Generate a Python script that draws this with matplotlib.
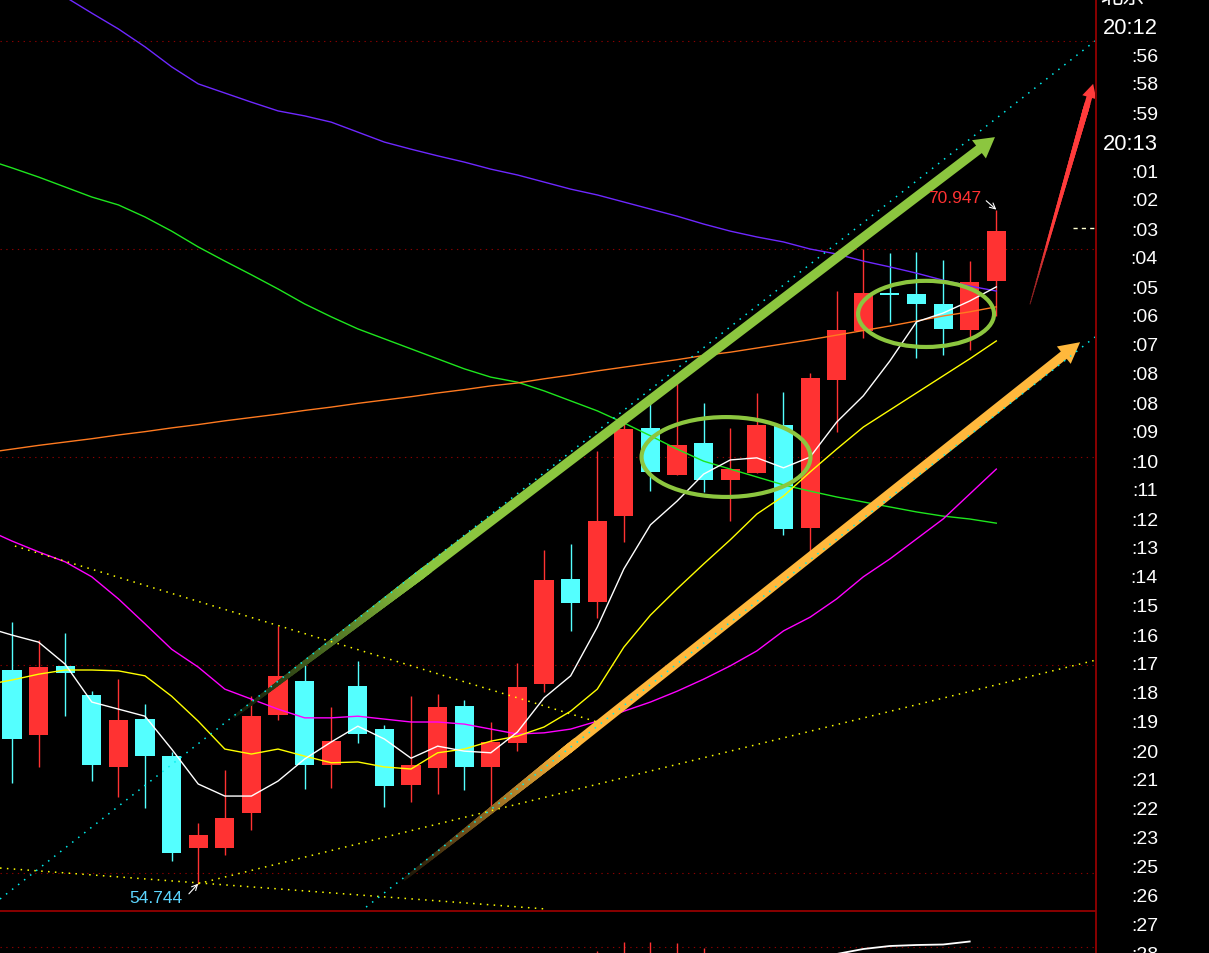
import numpy as np
import matplotlib.pyplot as plt
from matplotlib.patches import Ellipse, FancyArrowPatch
from matplotlib.collections import LineCollection
from matplotlib.colors import to_rgb
from matplotlib.lines import Line2D

plt.rcParams['font.family'] = ['Liberation Sans', 'Noto Sans CJK SC', 'DejaVu Sans']

# ---- candle data ----
opens = np.array([59.88, 58.32, 59.98, 59.28, 57.55, 58.70, 57.81, 55.60, 55.60, 56.44,
                  58.80, 59.62, 57.60, 59.50, 58.46, 57.12, 57.52, 59.01, 57.55, 58.13,
                  59.54, 62.07, 61.51, 63.58, 65.70, 64.57, 65.34, 64.45, 64.62, 65.77,
                  63.29, 66.85, 68.03, 68.94, 68.92, 68.68, 68.05, 69.23])
closes = np.array([58.22, 59.95, 59.81, 57.60, 58.68, 57.81, 55.48, 55.91, 56.32, 58.77,
                   59.74, 57.60, 58.17, 58.34, 57.09, 57.60, 58.99, 57.55, 58.15, 59.47,
                   62.04, 61.49, 63.46, 65.67, 64.64, 65.29, 64.45, 64.71, 65.77, 63.27,
                   66.90, 68.05, 68.94, 68.89, 68.68, 68.08, 69.21, 70.43])
highs = np.array([61.03, 60.60, 60.77, 59.37, 59.66, 59.06, 57.91, 56.20, 57.48, 59.25,
                  60.94, 60.07, 58.99, 60.10, 58.56, 59.25, 59.30, 59.16, 58.63, 60.05,
                  62.76, 62.91, 65.14, 65.87, 66.37, 66.78, 66.30, 65.70, 66.54, 66.56,
                  67.02, 68.99, 70.00, 69.90, 69.93, 69.74, 69.71, 70.947])
lows = np.array([57.16, 57.55, 58.77, 57.21, 56.83, 56.56, 55.29, 54.744, 55.43, 56.03,
                 58.68, 57.02, 57.04, 58.13, 56.59, 56.71, 56.90, 57.00, 56.51, 57.93,
                 59.35, 60.82, 61.13, 62.96, 64.18, 64.57, 64.16, 63.46, 64.62, 63.12,
                 62.72, 65.60, 67.86, 68.25, 67.38, 67.45, 67.57, 68.39])

# moving averages, first value belongs to the bar before the first visible one
ma_white = [60.91, 60.72, 60.55, 60.02, 59.11, 58.94, 58.77, 57.98, 57.14, 56.85, 56.85,
            57.21, 57.74, 58.15, 58.53, 58.22, 57.76, 58.05, 57.93, 57.89, 58.39,
            59.21, 59.74, 60.91, 62.31, 63.37, 63.94, 64.59, 64.93, 64.98, 64.74,
            65.00, 65.84, 66.47, 67.31, 68.25, 68.46, 68.75, 69.09]
ma_yellow = [59.52, 59.64, 59.78, 59.88, 59.88, 59.86, 59.74, 59.25, 58.65, 57.98, 57.86,
             57.98, 57.81, 57.65, 57.67, 57.55, 57.50, 57.89, 57.98, 58.17, 58.29,
             58.51, 58.89, 59.42, 60.43, 61.20, 61.83, 62.43, 63.01, 63.63, 64.06,
             64.64, 65.19, 65.72, 66.13, 66.54, 66.95, 67.36, 67.79]
ma_magenta = [63.27, 62.98, 62.72, 62.48, 62.12, 61.59, 60.99, 60.38, 59.95, 59.42, 59.18,
              58.94, 58.73, 58.73, 58.77, 58.70, 58.63, 58.63, 58.58, 58.46, 58.34,
              58.37, 58.46, 58.65, 58.89, 59.11, 59.37, 59.66, 59.98, 60.34, 60.82,
              61.15, 61.59, 62.12, 62.55, 63.03, 63.51, 64.11, 64.71]
ma_green = [72.16, 71.95, 71.73, 71.49, 71.25, 71.06, 70.77, 70.43, 70.05, 69.71, 69.38,
            69.04, 68.68, 68.37, 68.08, 67.84, 67.60, 67.36, 67.12, 66.92, 66.80,
            66.59, 66.35, 66.11, 65.82, 65.51, 65.19, 64.90, 64.71, 64.52, 64.33,
            64.18, 64.04, 63.92, 63.80, 63.68, 63.58, 63.51, 63.41]
ma_orange = [65.10, 65.19, 65.28, 65.36, 65.44, 65.53, 65.61, 65.70, 65.78, 65.87, 65.95,
             66.03, 66.12, 66.20, 66.29, 66.37, 66.45, 66.54, 66.62, 66.71, 66.78,
             66.88, 66.97, 67.07, 67.16, 67.25, 67.34, 67.44, 67.52, 67.62, 67.72,
             67.82, 67.93, 68.04, 68.15, 68.27, 68.39, 68.49, 68.61]
ma_purple = [77.45, 76.97, 76.54, 76.06, 75.67, 75.29, 74.86, 74.38, 73.97, 73.75, 73.53,
             73.32, 73.20, 73.05, 72.81, 72.57, 72.40, 72.24, 72.09, 71.92, 71.78,
             71.61, 71.44, 71.30, 71.13, 70.96, 70.79, 70.60, 70.43, 70.29, 70.17,
             70.00, 69.88, 69.71, 69.57, 69.42, 69.25, 69.11, 68.99]

# hand drawn trend lines: ((bar, price), (bar, price))
yellow_dotted = [((0.11, 62.86), (22.11, 58.61)),
                 ((7.0, 54.744), (41.0, 60.16)),
                 ((-0.45, 55.12), (20.08, 54.135))]
cyan_dotted = [((-0.45, 54.375), (40.71, 75.0)),
               ((13.31, 54.18), (40.71, 67.885))]
green_arrow = ((8.38, 58.77), (36.95, 72.69))
orange_arrow = ((14.77, 54.86), (40.15, 67.76))
red_arrow = ((38.27, 68.68), (40.64, 73.97))
ellipses = [((26.84, 65.0), 6.35, 1.92), ((34.36, 68.44), 5.11, 1.59)]
last_price = 70.50
grid_prices = [55, 60, 65, 70, 75]

# lower pane (indicator)
sub_x = [31, 32, 33, 34, 35, 36]
sub_line = [-0.7, -0.2, 0.1, 0.2, 0.25, 0.55]
sub_bar_x = [22, 23, 24, 25, 26]
sub_bar_top = [-0.4, 0.5, 0.5, 0.4, -0.1]

time_labels = ['20:12', ':56', ':58', ':59', '20:13', ':01', ':02', ':03', ':04', ':05',
               ':06', ':07', ':08', ':08', ':09', ':10', ':11', ':12', ':13', ':14',
               ':15', ':16', ':17', ':18', ':19', ':20', ':21', ':22', ':23', ':25',
               ':26', ':27', ':28']

RED = '#FF3232'
CYAN = '#54FFFF'
LIME = '#8CC63F'

fig = plt.figure(figsize=(12.09, 9.54), dpi=100, facecolor='black')
ax = fig.add_axes([0, 42 / 954, 1095 / 1209, 912 / 954])
ax.set_facecolor('black')
ax.set_xlim(-0.451, 40.71)
ax.set_ylim(54.087, 76.01)
ax.axis('off')

for g in grid_prices:
    ax.axhline(g, color='#8B0000', lw=0.8, ls=(0, (1.2, 4)), zorder=1)

# candles
x = np.arange(len(opens))
up = closes >= opens
cols = np.where(up, RED, CYAN)
ax.vlines(x, lows, highs, colors=cols, lw=1, zorder=2)
ax.bar(x, np.maximum(np.abs(closes - opens), 0.05), bottom=np.minimum(opens, closes),
       width=0.72, color=cols, lw=0, zorder=2)

# moving averages
xm = np.arange(-1, len(opens))
for vals, c in [(ma_purple, '#6E28FF'), (ma_green, '#1EE61E'), (ma_orange, '#FF7A20'),
                (ma_magenta, '#FF00FF'), (ma_yellow, '#FFFF00'), (ma_white, '#FFFFFF')]:
    ax.plot(xm, vals, color=c, lw=1.0, zorder=3)

ax.plot([39.9, 40.71], [last_price, last_price], color='#FFFFD0', lw=1, ls=(0, (3, 3)), zorder=3)

for (a, b) in yellow_dotted:
    ax.plot([a[0], b[0]], [a[1], b[1]], color='#FFFF00', lw=1.1, ls=(0, (1, 3.5)), zorder=5)
for (a, b) in cyan_dotted:
    ax.plot([a[0], b[0]], [a[1], b[1]], color='#00EEEE', lw=1.1, ls=(0, (1, 4)), zorder=5)


def draw_arrow(start, end, color, lw, head_l, head_w, tail_w, fade=0.25, taper=False):
    (x0, y0), (x1, y1) = start, end
    n = 80
    stop = 0.9 if taper else fade
    t = np.linspace(0, stop, n + 1)
    xs = x0 + (x1 - x0) * t
    ys = y0 + (y1 - y0) * t
    segs = [[(xs[k], ys[k]), (xs[k + 1], ys[k + 1])] for k in range(n)]
    frac = (t[:-1] + t[1:]) / 2 / stop
    base = np.array(to_rgb(color))
    if taper:
        rgb = [base * (0.5 + 0.5 * min(f * 3, 1)) for f in frac]
        widths = lw * (0.15 + 0.85 * frac)
    else:
        rgb = [base * (0.1 + 0.9 * f) for f in frac]
        widths = lw * (0.3 + 0.7 * frac)
    ax.add_collection(LineCollection(segs, colors=rgb, linewidths=widths,
                                     capstyle='projecting', zorder=4))
    s = 0.86 if taper else fade
    mid = (x0 + (x1 - x0) * s, y0 + (y1 - y0) * s)
    ax.add_patch(FancyArrowPatch(mid, end, shrinkA=0, shrinkB=0, mutation_scale=10,
                                 arrowstyle=f'simple,head_length={head_l},head_width={head_w},tail_width={tail_w}',
                                 color=color, lw=0, zorder=4))


draw_arrow(*green_arrow, LIME, 6.8, 1.45, 1.65, 0.68)
draw_arrow(*orange_arrow, '#FFB83C', 6.8, 1.5, 1.6, 0.68)
draw_arrow(*red_arrow, '#FF3B3B', 4.2, 1.0, 1.05, 0.42, taper=True)

for (c, w, h) in ellipses:
    ax.add_patch(Ellipse(c, w, h, fill=False, ec=LIME, lw=3, zorder=6))

# high / low marks
ax.text(35.45, 71.23, f'{highs[-1]:.3f}', color=RED, fontsize=12.5, ha='center', va='center', zorder=7)
ax.annotate('', xy=(37.0, highs[-1]), xytext=(36.62, 71.16),
            arrowprops=dict(arrowstyle='->', color='white', lw=0.8, shrinkA=0, shrinkB=0), zorder=7)
imin = int(np.argmin(lows))
ax.text(5.41, 54.42, f'{lows[imin]:.3f}', color='#5CD6FF', fontsize=12.5, ha='center', va='center', zorder=7)
ax.annotate('', xy=(imin, lows[imin]), xytext=(6.65, 54.50),
            arrowprops=dict(arrowstyle='->', color='white', lw=0.8, shrinkA=0, shrinkB=0), zorder=7)

# lower pane
ax2 = fig.add_axes([0, 0, 1095 / 1209, 42 / 954])
ax2.set_facecolor('black')
ax2.set_xlim(-0.451, 40.71)
ax2.set_ylim(-0.6, 3.6)
ax2.axis('off')
ax2.axhline(0, color='#8B0000', lw=0.8, ls=(0, (1.2, 4)))
ax2.vlines(sub_bar_x, -0.6, sub_bar_top, colors=RED, lw=1)
ax2.plot(sub_x, sub_line, color='white', lw=1.3)

# frame lines
fig.add_artist(Line2D([0, 1095 / 1209], [42 / 954, 42 / 954], color='#A00000', lw=1.2,
                      transform=fig.transFigure))
fig.add_artist(Line2D([1095.5 / 1209, 1095.5 / 1209], [0, 1], color='#A00000', lw=1.2,
                      transform=fig.transFigure))

# right side time list
fig.text(1100 / 1209, 1 + 3 / 954, '北京', color='white', fontsize=16, ha='left', va='center',
         family=['Noto Sans CJK SC', 'DejaVu Sans'])
for k, lab in enumerate(time_labels):
    fs = 15.8 if lab.startswith('20') else 14
    fig.text(1158 / 1209, 1 - (28 + 29 * k) / 954, lab, color='white', fontsize=fs,
             ha='right', va='center')

fig.savefig('out.png', dpi=100, facecolor='black')
